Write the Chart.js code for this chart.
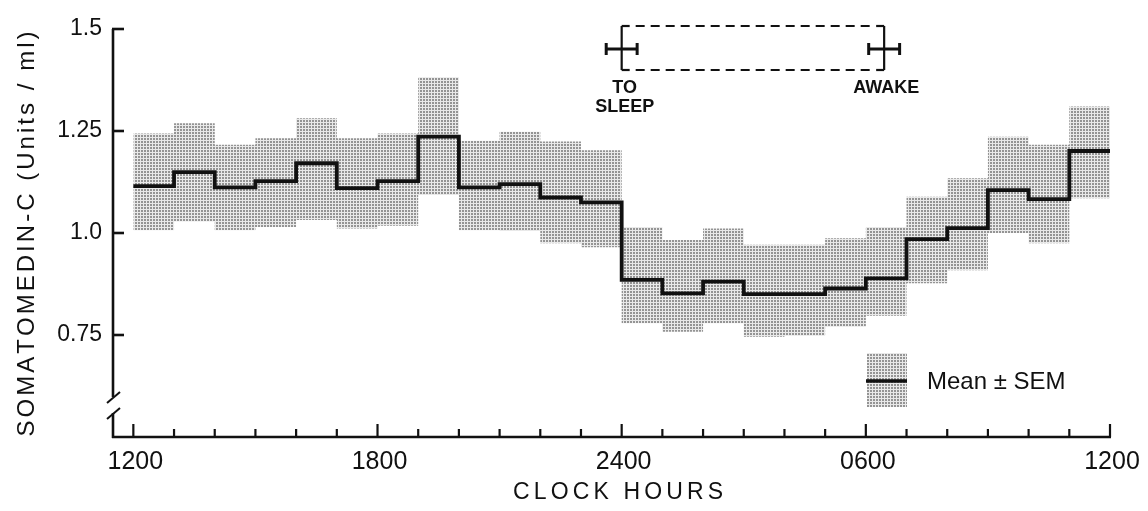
<!DOCTYPE html>
<html>
<head>
<meta charset="utf-8">
<script src="https://cdn.jsdelivr.net/npm/chart.js@4/dist/chart.umd.min.js"></script>
<style>
  html, body { margin: 0; padding: 0; background: #fff; }
</style>
</head>
<body>
<canvas id="chart" width="1148" height="511"></canvas>
<script>
// ======================= DATA =======================

// hours after 1200 noon, one step per hour
const hours = [0, 1, 2, 3, 4, 5, 6, 7, 8, 9, 10, 11, 12, 13, 14, 15, 16, 17, 18, 19, 20, 21, 22, 23];

// Somatomedin-C, Units/ml
const meanValues = [1.115, 1.149, 1.112, 1.127, 1.171, 1.110, 1.127, 1.236, 1.112, 1.120, 1.087, 1.075,
                    0.885, 0.852, 0.881, 0.850, 0.850, 0.864, 0.889, 0.985, 1.012, 1.105, 1.083, 1.201];
const upperSem = [1.244, 1.269, 1.216, 1.232, 1.281, 1.232, 1.244, 1.382, 1.226, 1.248, 1.224, 1.203,
                  1.015, 0.983, 1.011, 0.971, 0.971, 0.987, 1.015, 1.089, 1.134, 1.236, 1.216, 1.310];
const lowerSem = [1.007, 1.028, 1.007, 1.015, 1.032, 1.011, 1.018, 1.093, 1.007, 1.005, 0.975, 0.965,
                  0.779, 0.758, 0.779, 0.746, 0.748, 0.770, 0.797, 0.877, 0.909, 1.000, 0.975, 1.085];

const xTickHours = [0, 6, 12, 18, 24];
const xTickLabels = ['1200', '1800', '2400', '0600', '1200'];
const yTicks = [1.5, 1.25, 1.0, 0.75];
const yTickLabels = ['1.5', '1.25', '1.0', '0.75'];

// sleep timing (hours after noon) and its SEM
const sleepOnset = 12.0;
const awakeTime = 18.45;
const timingSem = 0.38;


// ======================= HELPERS =======================

const canvas = document.getElementById('chart');
const ctx = canvas.getContext('2d');

// step series: last value is carried to the end of the 24 h
const toSteps = vals => hours.map((h, i) => ({ x: h, y: vals[i] }))
    .concat([{ x: 24, y: vals[vals.length - 1] }]);

// halftone dot screen like the printed figure
function makeHalftone() {
    const c = document.createElement('canvas');
    c.width = 3; c.height = 3;
    const g = c.getContext('2d');
    g.fillStyle = '#e9e9e9';
    g.fillRect(0, 0, 3, 3);
    g.fillStyle = '#949494';
    g.fillRect(0, 0, 2, 2);
    return ctx.createPattern(c, 'repeat');
}
const halftone = makeHalftone();

// text spread out to a given width
function spacedText(g, text, cx, cy, width) {
    const chars = [...text];
    const raw = chars.reduce((s, ch) => s + g.measureText(ch).width, 0);
    const gap = (width - raw) / (chars.length - 1);
    let xPos = cx - width / 2;
    g.textAlign = 'left';
    chars.forEach(ch => {
        g.fillText(ch, xPos, cy);
        xPos += g.measureText(ch).width + gap;
    });
}

function line(g, x1, y1, x2, y2) {
    g.beginPath();
    g.moveTo(x1, y1);
    g.lineTo(x2, y2);
    g.stroke();
}


// ======================= AXES / ANNOTATION PLUGIN =======================

const paperAxes = {
    id: 'paperAxes',
    afterDraw(chart) {
        const g = chart.ctx;
        const { x, y } = chart.scales;
        const area = chart.chartArea;
        const L = area.left, B = area.bottom, T = area.top;

        g.save();
        g.strokeStyle = '#111';
        g.fillStyle = '#111';
        g.lineCap = 'butt';

        // y axis with a break near the bottom
        g.lineWidth = 2.6;
        line(g, L, T, L, B - 40);
        line(g, L, B - 24, L, B + 1);
        g.lineWidth = 2;
        line(g, L - 6, B - 34, L + 7, B - 45);
        line(g, L - 6, B - 18, L + 7, B - 29);

        g.lineWidth = 2.6;
        yTicks.forEach(v => {
            const py = y.getPixelForValue(v);
            line(g, L - 1, py, L + 11, py);
        });

        // x axis with hourly ticks
        const xEnd = x.getPixelForValue(24);
        line(g, L - 1, B, xEnd + 1, B);
        g.lineWidth = 2.2;
        for (let h = 0; h <= 24; h++) {
            const px = x.getPixelForValue(h);
            const len = xTickHours.includes(h) ? 13 : 8;
            line(g, px, B, px, B - len);
        }

        // tick labels
        g.font = '23px "Liberation Sans", Arial, sans-serif';
        g.textAlign = 'right';
        g.textBaseline = 'middle';
        yTicks.forEach((v, i) => g.fillText(yTickLabels[i], L - 11, y.getPixelForValue(v)));

        g.font = '25px "Liberation Sans", Arial, sans-serif';
        g.textAlign = 'center';
        xTickHours.forEach((h, i) => g.fillText(xTickLabels[i], x.getPixelForValue(h) + 2, B + 25));

        // axis titles
        g.font = '23px "Liberation Sans", Arial, sans-serif';
        spacedText(g, 'CLOCK HOURS', 618, B + 56, 210);

        g.save();
        g.translate(27, 234);
        g.rotate(-Math.PI / 2);
        g.font = '24px "Liberation Sans", Arial, sans-serif';
        spacedText(g, 'SOMATOMEDIN-C (Units / ml)', 0, 0, 405);
        g.restore();

        // sleep period box
        const xs = x.getPixelForValue(sleepOnset);
        const xe = x.getPixelForValue(awakeTime);
        const bt = T - 3, bb = T + 41, bm = T + 20;
        g.lineWidth = 2.2;
        line(g, xs, bt, xs, bb);
        line(g, xe, bt, xe, bb);
        line(g, xs, bt, xs + 8, bt);
        line(g, xs, bb, xs + 8, bb);
        line(g, xe - 8, bt, xe, bt);
        line(g, xe - 8, bb, xe, bb);
        g.setLineDash([9, 6]);
        line(g, xs + 14, bt, xe - 12, bt);
        line(g, xs + 14, bb, xe - 12, bb);
        g.setLineDash([]);

        // SEM bars for sleep and wake times
        g.lineWidth = 3;
        [sleepOnset, awakeTime].forEach(t => {
            const a = x.getPixelForValue(t - timingSem);
            const b = x.getPixelForValue(t + timingSem);
            line(g, a, bm, b, bm);
            line(g, a, bm - 6, a, bm + 6);
            line(g, b, bm - 6, b, bm + 6);
        });

        g.font = 'bold 18px "Liberation Sans", Arial, sans-serif';
        g.textAlign = 'center';
        g.fillText('TO', xs + 3, T + 59);
        g.fillText('SLEEP', xs + 3, T + 78);
        g.fillText('AWAKE', xe + 2, T + 59);

        // legend
        g.fillStyle = halftone;
        g.fillRect(867, 353, 40, 54);
        g.lineWidth = 3.5;
        line(g, 866, 381, 907, 381);
        g.fillStyle = '#111';
        g.font = '24px "Liberation Sans", Arial, sans-serif';
        g.textAlign = 'left';
        g.fillText('Mean \u00b1 SEM', 927, 382);

        g.restore();
    }
};


// ======================= CHART =======================

new Chart(ctx, {
    type: 'line',
    data: {
        datasets: [
            {
                label: 'upper',
                data: toSteps(upperSem),
                stepped: true,
                borderWidth: 0,
                pointRadius: 0,
                backgroundColor: halftone,
                fill: '+1',
                order: 2
            },
            {
                label: 'lower',
                data: toSteps(lowerSem),
                stepped: true,
                borderWidth: 0,
                pointRadius: 0,
                fill: false,
                order: 2
            },
            {
                label: 'Mean',
                data: toSteps(meanValues),
                stepped: true,
                borderColor: '#111',
                borderWidth: 3.8,
                pointRadius: 0,
                fill: false,
                order: 0
            }
        ]
    },
    options: {
        responsive: false,
        animation: false,
        layout: { padding: { left: 113, right: 38, top: 29, bottom: 74 } },
        scales: {
            x: { type: 'linear', min: -0.5, max: 24, display: false },
            y: { min: 0.5, max: 1.5, display: false }
        },
        plugins: {
            legend: { display: false },
            tooltip: { enabled: false }
        }
    },
    plugins: [paperAxes]
});
</script>
</body>
</html>
